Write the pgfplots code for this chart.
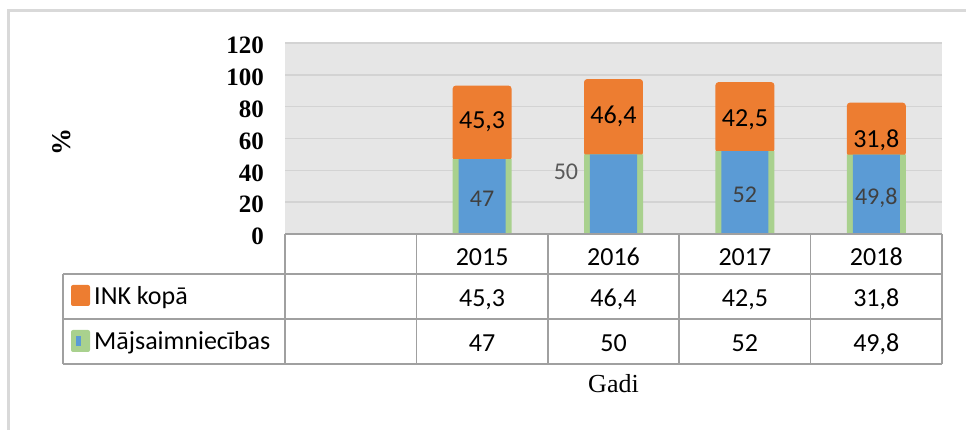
\documentclass[border=0pt]{standalone}
\usepackage{fontspec}
\setmainfont{Carlito}
\newfontfamily\timesfont{Liberation Serif}
\usepackage{pgfplots}
\usepackage{pgfplotstable}
\pgfplotsset{compat=1.18}
\definecolor{inkorange}{HTML}{ED7D31}
\definecolor{majblue}{HTML}{5B9BD5}
\definecolor{majgreen}{HTML}{A9D18E}
\definecolor{bggray}{HTML}{E6E6E6}
\definecolor{gridgray}{HTML}{D3D3D3}
\definecolor{tablegray}{HTML}{A0A0A0}
\definecolor{bordergray}{HTML}{D9D9D9}
\definecolor{lbldark}{HTML}{404040}
\definecolor{lblgray}{HTML}{595959}

\pgfplotstableread{
x ink maj
1 45.3 47
2 46.4 50
3 42.5 52
4 31.8 49.8
}\data

\pgfplotsset{
 geom/.style={width=657pt,height=191pt,scale only axis,at={(285pt,196pt)},anchor=south west,
   xmin=-0.5,xmax=4.5,ymin=0,ymax=120},
 lbl/.style={only marks, mark=*, mark size=0pt, mark options={draw=none,fill=none},
   nodes near coords={\pgfmathprintnumber[fixed,precision=1,use comma,1000 sep={},assume math mode=true]{\pgfplotspointmeta}},
   point meta=explicit,
   every node near coord/.append style={anchor=center, text depth=0pt, inner sep=0pt, font=\fontsize{#1}{#1}\selectfont}},
 lbl/.default=26,
}

\begin{document}
\begin{tikzpicture}
\path[use as bounding box] (0pt,0pt) rectangle (966pt,430pt);
% outer chart border
\draw[bordergray, line width=2.5pt] (8.5pt,0pt) -- (8.5pt,419.5pt) -- (966pt,419.5pt);

\begin{axis}[geom, ybar stacked,
  axis background/.style={fill=bggray},
  ymajorgrids, grid style={draw=gridgray, line width=1.5pt},
  ytick={0,20,...,120}, xtick=\empty,
  axis line style={draw=none}, major tick length=0pt,
  yticklabel style={font=\timesfont\bfseries\fontsize{25}{25}\selectfont, anchor=east, inner sep=0pt, xshift=-21pt, yshift=-2.5pt},
  /pgf/number format/assume math mode=true]
\addplot[fill=majgreen, draw=none, bar width=0.449] table[x=x,y=maj]\data;
\addplot[fill=inkorange, draw=inkorange, line width=3pt, bar width=0.426, rounded corners=2pt] table[x=x,y=ink]\data;
\end{axis}

\begin{axis}[geom, hide axis, clip=false]
\addplot[ybar, bar width=0.358, fill=majblue, draw=none] table[x=x,y=maj]\data;
% labels inside bars
\addplot[lbl=24, every node near coord/.append style={text=lbldark}] coordinates {(1,22.4)[47] (3,24.5)[52] (4,23.4)[49.8]};
\addplot[lbl=24, every node near coord/.append style={text=lblgray}] coordinates {(1.638,39.0)[50]};
\addplot[lbl=26, every node near coord/.append style={text=black}] coordinates {(1,71.4)[45.3] (2,74.8)[46.4] (3,72.7)[42.5] (4,60.1)[31.8]};
% data table
\addplot[only marks, mark=*, mark size=0pt, mark options={draw=none,fill=none},
  nodes near coords, point meta=explicit symbolic,
  every node near coord/.append style={anchor=center, text depth=0pt, inner sep=0pt, text=black, font=\fontsize{26}{26}\selectfont}]
  coordinates {(1,-14.3)[2015] (2,-14.3)[2016] (3,-14.3)[2017] (4,-14.3)[2018]};
\addplot[lbl=26, every node near coord/.append style={text=black}] coordinates {(1,-40.2)[45.3] (2,-40.2)[46.4] (3,-40.2)[42.5] (4,-40.2)[31.8]};
\addplot[lbl=26, every node near coord/.append style={text=black}] coordinates {(1,-68.5)[47] (2,-68.5)[50] (3,-68.5)[52] (4,-68.5)[49.8]};
\end{axis}

% table grid
\begin{scope}[tablegray, line width=1.5pt]
\draw (285pt,196pt) -- (942pt,196pt);
\draw (63pt,156pt) -- (942pt,156pt);
\draw (63pt,111pt) -- (942pt,111pt);
\draw (63pt,66pt) -- (942pt,66pt);
\draw (63pt,156pt) -- (63pt,66pt);
\draw (285pt,196pt) -- (285pt,66pt);
\draw (416.4pt,196pt) -- (416.4pt,66pt);
\draw (547.8pt,196pt) -- (547.8pt,66pt);
\draw (679.2pt,196pt) -- (679.2pt,66pt);
\draw (810.6pt,196pt) -- (810.6pt,66pt);
\draw (942pt,196pt) -- (942pt,66pt);
\end{scope}

% legend keys in table
\fill[inkorange, rounded corners=2pt] (71pt,124pt) rectangle (90pt,145pt);
\node[anchor=base west, inner sep=0pt, font=\fontsize{26}{26}\selectfont] at (94pt,125pt) {INK kopā};
\fill[majgreen, rounded corners=2pt] (71pt,78pt) rectangle (90pt,100pt);
\fill[majblue] (75.7pt,84.3pt) rectangle (80.7pt,94.3pt);
\node[anchor=base west, inner sep=0pt, font=\fontsize{26}{26}\selectfont] at (94pt,80pt) {Mājsaimniecības};

% axis titles
\node[anchor=base, inner sep=0pt, font=\timesfont\fontsize{26}{26}\selectfont] at (613.5pt,37.7pt) {Gadi};
\node[rotate=90, inner sep=0pt, font=\timesfont\bfseries\fontsize{27}{27}\selectfont] at (62pt,288pt) {\%};
\end{tikzpicture}
\end{document}
